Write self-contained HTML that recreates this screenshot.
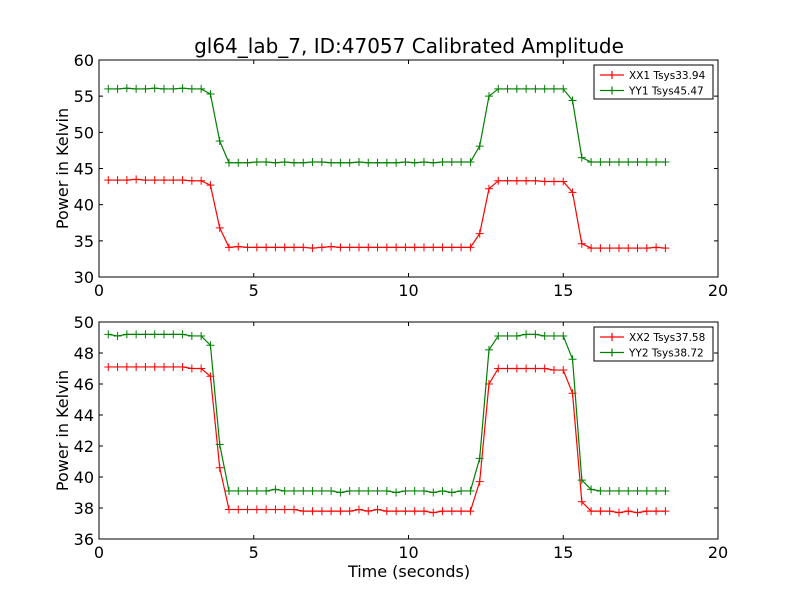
<!DOCTYPE html>
<html><head><meta charset="utf-8"><style>body{margin:0;background:#fff}svg{display:block}text{font-family:"DejaVu Sans","Liberation Sans",sans-serif}</style></head>
<body>
<svg id="c" width="800" height="600" xmlns="http://www.w3.org/2000/svg"></svg>
<script>
const times = Array.from({length:61},(_,i)=>+(0.3+0.3*i).toFixed(1));
const xx1 = [43.4,43.4,43.4,43.5,43.4,43.4,43.4,43.4,43.4,43.3,43.3,42.7,36.8,
34.1,34.2,34.1,34.1,34.1,34.1,34.1,34.1,34.1,34.0,34.1,34.2,34.1,34.1,34.1,34.1,34.1,34.1,34.1,34.1,34.1,34.1,34.1,34.1,34.1,34.1,34.1,
36.0,42.2,43.3,43.3,43.3,43.3,43.3,43.2,43.2,43.2,41.7,34.6,
34.0,34.0,34.0,34.0,34.0,34.0,34.0,34.1,34.0];
const yy1 = [56.0,56.0,56.1,56.0,56.0,56.1,56.0,56.0,56.1,56.0,56.0,55.3,48.8,
45.8,45.8,45.8,45.9,45.9,45.8,45.9,45.8,45.8,45.9,45.9,45.8,45.8,45.8,45.9,45.8,45.8,45.8,45.8,45.9,45.8,45.9,45.8,45.9,45.9,45.9,45.9,
48.1,55.0,56.0,56.0,56.0,56.0,56.0,56.0,56.0,56.0,54.4,46.5,
45.9,45.9,45.9,45.9,45.9,45.9,45.9,45.9,45.9];
const xx2 = [47.1,47.1,47.1,47.1,47.1,47.1,47.1,47.1,47.1,47.0,47.0,46.5,40.6,
37.9,37.9,37.9,37.9,37.9,37.9,37.9,37.9,37.8,37.8,37.8,37.8,37.8,37.8,37.9,37.8,37.9,37.8,37.8,37.8,37.8,37.8,37.7,37.8,37.8,37.8,37.8,
39.7,46.0,47.0,47.0,47.0,47.0,47.0,47.0,46.9,46.9,45.4,38.4,
37.8,37.8,37.8,37.7,37.8,37.7,37.8,37.8,37.8];
const yy2 = [49.2,49.1,49.2,49.2,49.2,49.2,49.2,49.2,49.2,49.1,49.1,48.5,42.1,
39.1,39.1,39.1,39.1,39.1,39.2,39.1,39.1,39.1,39.1,39.1,39.1,39.0,39.1,39.1,39.1,39.1,39.1,39.0,39.1,39.1,39.1,39.0,39.1,39.0,39.1,39.1,
41.2,48.2,49.1,49.1,49.1,49.2,49.2,49.1,49.1,49.1,47.6,39.8,
39.2,39.1,39.1,39.1,39.1,39.1,39.1,39.1,39.1];
const xTicks=[0,5,10,15,20];
const yTicksTop=[30,35,40,45,50,55,60];
const yTicksBot=[36,38,40,42,44,46,48,50];
const legendTop=["XX1 Tsys33.94","YY1 Tsys45.47"];
const legendBot=["XX2 Tsys37.58","YY2 Tsys38.72"];

const svg=document.getElementById('c');
const NS="http://www.w3.org/2000/svg";
function mk(tag,attrs,parent){const e=document.createElementNS(NS,tag);for(const k in attrs)e.setAttribute(k,attrs[k]);(parent||svg).appendChild(e);return e;}
function txt(s,x,y,size,anchor,parent){const t=mk('text',{x:x,y:y,'font-size':size,'text-anchor':anchor||'middle',fill:'#000'},parent);t.textContent=s;return t;}

function panel(name,top,bottom,ymin,ymax,yTicks,s1,s2,leg){
  const L=99,R=718;
  const g=mk('g',{});
  
  
  const X=v=>L+(v-0)/(20-0)*(R-L);
  const Y=v=>bottom-(v-ymin)/(ymax-ymin)*(bottom-top);
  const series=[[s1,'#ff0000',leg[0]],[s2,'#008000',leg[1]]];
  series.forEach(([d,col,lab],si)=>{
    const sg=mk('g',{},g);
    
    
    mk('polyline',{points:d.map((v,i)=>X(times[i])+','+Y(v)).join(' '),fill:'none',stroke:col,'stroke-width':1.2},sg);
    d.forEach((v,i)=>{const x=X(times[i]),y=Y(v);
      mk('path',{d:`M${x-4},${y}H${x+4}M${x},${y-4}V${y+4}`,stroke:col,'stroke-width':1},sg);});
  });
  mk('rect',{x:L,y:top,width:R-L,height:bottom-top,fill:'none',stroke:'#000','stroke-width':1},g);
  xTicks.forEach(v=>{const x=X(v);
    mk('path',{d:`M${x},${bottom}v-4M${x},${top}v4`,stroke:'#000'},g);
    const t=txt(String(v),x,bottom+19,16,'middle',g);
    
    });
  yTicks.forEach(v=>{const y=Y(v);
    mk('path',{d:`M${L},${y}h4M${R},${y}h-4`,stroke:'#000'},g);
    const t=txt(String(v),L-5,y+6,16,'end',g);
    
    });
  const yl=txt('Power in Kelvin',0,0,16,'middle',g);
  yl.setAttribute('transform',`translate(68,${(top+bottom)/2}) rotate(-90)`);
  
  
  const lg=mk('g',{},g);
  
  
  mk('rect',{x:594,y:top+5,width:119,height:34,fill:'#fff',stroke:'#000'},lg);
  series.forEach(([d,col,lab],i)=>{const y=top+15+i*15.5;
    mk('path',{d:`M600,${y}H624M612,${y-4}V${y+4}`,stroke:col,'stroke-width':1.2},lg);
    const t=txt(lab,629,y+4,10.5,'start',lg);
    
    });
}
const title=txt('gl64_lab_7, ID:47057 Calibrated Amplitude',409,53,20);


panel('top-panel',60,277,30,60,yTicksTop,xx1,yy1,legendTop);
panel('bottom-panel',322,539,36,50,yTicksBot,xx2,yy2,legendBot);
const xt=txt('Time (seconds)',409,577,16);


</script>
</body></html>
